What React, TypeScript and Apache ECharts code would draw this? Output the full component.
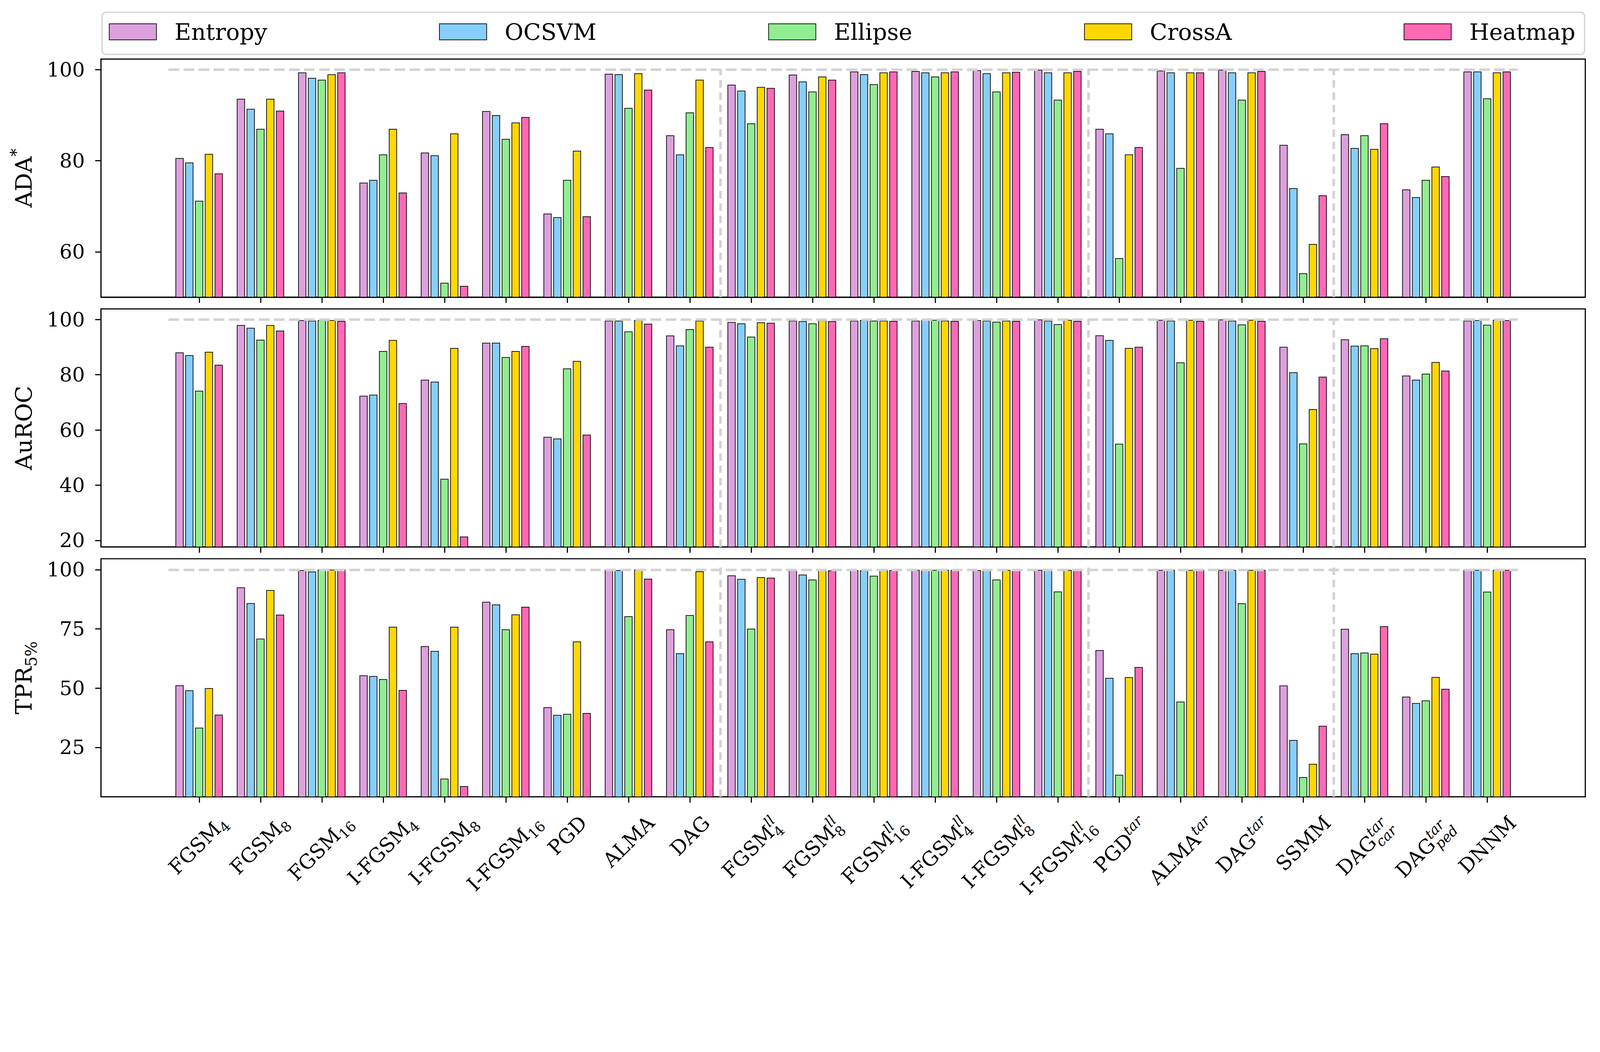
import React, { useEffect, useRef } from 'react';
import * as echarts from 'echarts';

// ---------------- data ----------------
const methods = ['Entropy', 'OCSVM', 'Ellipse', 'CrossA', 'Heatmap'];
const colors = ['#DDA0DD', '#87CEFA', '#90EE90', '#FFD700', '#FF69B4'];

const labelBase = ['FGSM', 'FGSM', 'FGSM', 'I-FGSM', 'I-FGSM', 'I-FGSM', 'PGD', 'ALMA', 'DAG', 'FGSM', 'FGSM', 'FGSM', 'I-FGSM', 'I-FGSM', 'I-FGSM', 'PGD', 'ALMA', 'DAG', 'SSMM', 'DAG', 'DAG', 'DNNM'];
const labelSub = ['4', '8', '16', '4', '8', '16', '', '', '', '4', '8', '16', '4', '8', '16', '', '', '', '', 'car', 'ped', ''];
const labelSup = ['', '', '', '', '', '', '', '', '', 'll', 'll', 'll', 'll', 'll', 'll', 'tar', 'tar', 'tar', '', 'tar', 'tar', ''];

// ADA*
const adaEntropy = [80.6, 93.6, 99.4, 75.2, 81.8, 90.9, 68.4, 99.1, 85.6, 96.7, 98.9, 99.6, 99.7, 99.9, 100, 87.0, 99.8, 100, 83.5, 85.8, 73.7, 99.6];
const adaOCSVM = [79.6, 91.4, 98.2, 75.8, 81.2, 90.0, 67.6, 99.0, 81.4, 95.4, 97.4, 99.0, 99.4, 99.2, 99.4, 86.0, 99.4, 99.4, 74.0, 82.8, 72.0, 99.6];
const adaEllipse = [71.2, 87.0, 97.8, 81.4, 53.2, 84.8, 75.8, 91.6, 90.6, 88.2, 95.2, 96.8, 98.5, 95.2, 93.4, 58.6, 78.4, 93.4, 55.3, 85.6, 75.8, 93.7];
const adaCrossA = [81.5, 93.6, 99.0, 87.0, 86.0, 88.4, 82.2, 99.2, 97.8, 96.2, 98.5, 99.4, 99.4, 99.4, 99.4, 81.4, 99.4, 99.4, 61.7, 82.6, 78.7, 99.4];
const adaHeatmap = [77.2, 91.0, 99.4, 73.0, 52.5, 89.6, 67.8, 95.6, 83.0, 96.0, 97.8, 99.6, 99.6, 99.5, 99.7, 83.0, 99.4, 99.7, 72.4, 88.2, 76.6, 99.6];

// AuROC
const aurocEntropy = [88.1, 98.0, 99.8, 72.4, 78.2, 91.6, 57.5, 99.6, 94.2, 99.1, 99.6, 99.6, 99.6, 99.8, 100, 94.3, 99.9, 100, 90.1, 92.8, 79.7, 99.6];
const aurocOCSVM = [87.1, 97.0, 99.6, 72.8, 77.5, 91.6, 56.9, 99.6, 90.6, 98.6, 99.4, 99.8, 99.9, 99.6, 99.6, 92.6, 99.6, 99.6, 80.9, 90.5, 78.2, 99.8];
const aurocEllipse = [74.2, 92.7, 99.8, 88.6, 42.3, 86.4, 82.3, 95.7, 96.5, 93.8, 98.6, 99.6, 99.9, 99.2, 98.3, 55.0, 84.5, 98.2, 55.1, 90.6, 80.4, 98.1];
const aurocCrossA = [88.3, 98.0, 99.8, 92.6, 89.7, 88.6, 85.0, 99.8, 99.6, 99.0, 99.8, 99.6, 99.6, 99.6, 99.9, 89.7, 99.9, 99.9, 67.5, 89.6, 84.6, 99.9];
const aurocHeatmap = [83.6, 96.0, 99.5, 69.7, 21.4, 90.4, 58.3, 98.5, 90.1, 98.8, 99.4, 99.5, 99.5, 99.5, 99.5, 90.1, 99.5, 99.5, 79.3, 93.2, 81.5, 99.8];

// TPR 5%
const tprEntropy = [51.2, 92.5, 99.8, 55.4, 67.7, 86.4, 41.9, 100, 74.8, 97.6, 99.7, 99.8, 99.9, 99.8, 99.9, 66.0, 99.9, 99.9, 51.1, 75.0, 46.4, 99.9];
const tprOCSVM = [49.1, 85.9, 99.2, 55.1, 65.7, 85.3, 38.7, 99.8, 64.7, 96.1, 97.9, 99.7, 99.9, 99.8, 99.9, 54.3, 99.9, 99.9, 28.1, 64.7, 43.7, 99.9];
const tprEllipse = [33.3, 70.9, 100, 53.8, 11.8, 74.8, 39.1, 80.3, 80.8, 75.1, 95.8, 97.4, 99.9, 95.8, 90.8, 13.4, 44.3, 85.8, 12.4, 65.0, 44.8, 90.7];
const tprCrossA = [50.0, 91.4, 100, 75.9, 75.9, 81.1, 69.7, 100, 99.3, 96.8, 99.8, 99.9, 99.9, 99.9, 99.9, 54.6, 99.9, 99.9, 18.0, 64.5, 54.7, 99.9];
const tprHeatmap = [38.8, 81.0, 100, 49.2, 8.6, 84.3, 39.5, 96.2, 69.7, 96.6, 99.7, 99.8, 99.9, 99.8, 99.9, 58.9, 99.9, 99.9, 34.1, 76.1, 49.7, 99.9];

const panelValues = [
  [adaEntropy, adaOCSVM, adaEllipse, adaCrossA, adaHeatmap],
  [aurocEntropy, aurocOCSVM, aurocEllipse, aurocCrossA, aurocHeatmap],
  [tprEntropy, tprOCSVM, tprEllipse, tprCrossA, tprHeatmap],
];

const panelNames = ['{b|ADA}{sup|*}', '{b|AuROC}', '{b|TPR}{sub|5%}'];
const yMin = [50.06, 17.63, 4.12];
const yMax = [102.34, 103.86, 104.6];
const yTicks = [[60, 80, 100], [20, 40, 60, 80, 100], [25, 50, 75, 100]];
const separators = [8.5, 14.5, 18.5];
const sepTop = [100, 100, 102];
const refLine = 100;

// ---------------- layout (designed for a 4673 x 2694 canvas) ----------------
const FONT = 'DejaVu Serif';
const BASE_W = 4673;
const BASE_H = 2694;
const panelTop = [172.5, 902.5, 1632.5];
const panelH = 695.5;
const xIdx = labelBase.map((_, i) => i);

function measure(ctx: CanvasRenderingContext2D, text: string, size: number, italic: boolean) {
  ctx.font = `${italic ? 'italic ' : ''}${size}px "${FONT}"`;
  return ctx.measureText(text).width;
}

function txt(str: string, x: number, baseline: number, size: number, italic: boolean) {
  return {
    type: 'text',
    x,
    y: baseline - 0.346 * size,
    silent: true,
    style: {
      text: str,
      fontSize: size,
      fontFamily: FONT,
      fontStyle: italic ? 'italic' : 'normal',
      fill: '#000',
      align: 'left',
      verticalAlign: 'middle',
    },
  };
}

export default function App() {
  const ref = useRef<HTMLDivElement>(null);
  useEffect(() => {
    const el = ref.current;
    if (!el) return;
    const k = Math.min(el.clientWidth / BASE_W, el.clientHeight / BASE_H);
    const px = (v: number) => v * k;
    const FS = px(58.33);
    const SFS = FS * 0.7;
    const LFS = px(66.67);

    const chart = echarts.init(el, undefined, { renderer: 'svg' });

    const grids = panelTop.map((t) => ({
      left: px(295),
      width: px(4335),
      top: px(t),
      height: px(panelH),
      show: true,
      borderColor: '#000',
      borderWidth: px(3.3),
      backgroundColor: 'transparent',
    }));

    const xAxes = panelTop.map((_, p) => ({
      type: 'value',
      gridIndex: p,
      min: -1.6,
      max: 22.6,
      axisLine: { show: true, onZero: false, lineStyle: { color: '#000', width: px(3.3) } },
      axisTick: { show: true, length: px(17), customValues: xIdx, lineStyle: { color: '#000', width: px(3.3) } },
      axisLabel: { show: false, customValues: xIdx },
      splitLine: { show: false },
    }));

    const richBase = { fontFamily: FONT, color: '#000' };
    const yAxes = panelTop.map((_, p) => ({
      type: 'value',
      gridIndex: p,
      min: yMin[p],
      max: yMax[p],
      name: panelNames[p],
      nameLocation: 'middle',
      nameGap: px(180),
      nameTextStyle: {
        rich: {
          b: { ...richBase, fontSize: LFS, lineHeight: px(90), verticalAlign: 'middle' },
          sup: { ...richBase, fontSize: LFS * 0.7, lineHeight: LFS * 0.7, verticalAlign: 'top' },
          sub: { ...richBase, fontSize: LFS * 0.7, lineHeight: LFS * 0.7, verticalAlign: 'bottom' },
        },
      },
      axisLine: { show: true, onZero: false, lineStyle: { color: '#000', width: px(3.3) } },
      axisTick: { show: true, length: px(17), customValues: yTicks[p], lineStyle: { color: '#000', width: px(3.3) } },
      axisLabel: { customValues: yTicks[p], fontFamily: FONT, fontSize: FS, color: '#000', margin: px(47) },
      splitLine: { show: false },
    }));

    const series: any[] = [];
    panelValues.forEach((vals, p) => {
      vals.forEach((arr, m) => {
        const s: any = {
          type: 'bar',
          name: methods[m],
          xAxisIndex: p,
          yAxisIndex: p,
          data: arr.map((v, i) => [i, v]),
          barWidth: '13.3%',
          barGap: '20%',
          itemStyle: { color: colors[m], borderColor: '#000', borderWidth: px(2) },
          emphasis: { disabled: true },
        };
        // the centre bar of each group has zero offset, so its marker lines sit exactly on the data coords
        if (m === 2) {
          const vStyle = { color: '#d3d3d3', width: px(7.7), type: [px(22), px(14)] };
          s.markLine = {
            silent: true,
            symbol: ['none', 'none'],
            label: { show: false },
            lineStyle: { color: '#d3d3d3', width: px(7.7), type: [px(31), px(13)] },
            data: [
              [{ coord: [-0.5, refLine] }, { coord: [21.5, refLine] }],
              ...separators.map((x) => [
                { coord: [x, yMin[p]], lineStyle: vStyle },
                { coord: [x, sepTop[p]], lineStyle: vStyle },
              ]),
            ],
          };
        }
        series.push(s);
      });
    });

    const option: any = {
      animation: false,
      backgroundColor: '#fff',
      legend: {
        data: methods,
        left: px(318),
        top: px(60),
        padding: 0,
        itemWidth: px(138),
        itemHeight: px(47),
        itemGap: px(502),
        icon: 'rect',
        selectedMode: false,
        itemStyle: { borderColor: '#000', borderWidth: px(2) },
        formatter: (n: string) => `{t|${n}}`,
        textStyle: {
          fontFamily: FONT,
          fontSize: LFS,
          color: '#000',
          rich: { t: { fontFamily: FONT, fontSize: LFS, color: '#000', padding: [0, 0, 0, px(47)] } },
        },
      },
      grid: grids,
      xAxis: xAxes,
      yAxis: yAxes,
      series,
    };
    chart.setOption(option);

    // ---- rotated mathtext-like x labels under the bottom panel ----
    const canvas = document.createElement('canvas');
    const ctx = canvas.getContext('2d') as CanvasRenderingContext2D;
    const axisY = (chart.convertToPixel({ gridIndex: 2 }, [0, yMin[2]]) as number[])[1];
    const PAD = px(50);
    const c = Math.SQRT1_2;
    const labelGroups = labelBase.map((base, i) => {
      const sub = labelSub[i];
      const sup = labelSup[i];
      const subItalic = /[a-z]/i.test(sub);
      const bw = measure(ctx, base, FS, false);
      const sbw = sub ? measure(ctx, sub, SFS, subItalic) : 0;
      const spw = sup ? measure(ctx, sup, SFS, true) : 0;
      const both = !!sub && !!sup;
      const subShift = (both ? 0.26 : 0.2) * FS;
      const supShift = (both ? -0.44 : -0.4) * FS;
      const Wt = bw + Math.max(sbw, spw);
      const A = Math.max(0.73 * FS, sup ? -supShift + 0.76 * SFS : 0);
      const D = sub ? subShift + (/[pgqy]/.test(sub) ? 0.24 * SFS : 0) : 0;
      const tx = (chart.convertToPixel({ gridIndex: 2 }, [i, yMin[2]]) as number[])[0];
      const gx = tx + (c * (Wt + A - D)) / 2;
      const gy = axisY + PAD + c * A;
      const children: any[] = [txt(base, -Wt, 0, FS, false)];
      if (sub) children.push(txt(sub, -Wt + bw, subShift, SFS, subItalic));
      if (sup) children.push(txt(sup, -Wt + bw, supShift, SFS, true));
      return { type: 'group', x: gx, y: gy, rotation: Math.PI / 4, silent: true, children };
    });

    chart.setOption({
      graphic: [
        {
          type: 'rect',
          z: 0,
          silent: true,
          shape: { x: px(298), y: px(36), width: px(4330), height: px(123), r: px(12) },
          style: { fill: '#fff', stroke: '#d5d5d5', lineWidth: px(4) },
        },
        ...labelGroups,
      ],
    });

    return () => chart.dispose();
  }, []);
  return (
    <div
      ref={ref}
      style={{ position: 'absolute', left: 0, top: 0, width: '100vw', height: '100vh', background: '#fff', overflow: 'hidden' }}
    />
  );
}
